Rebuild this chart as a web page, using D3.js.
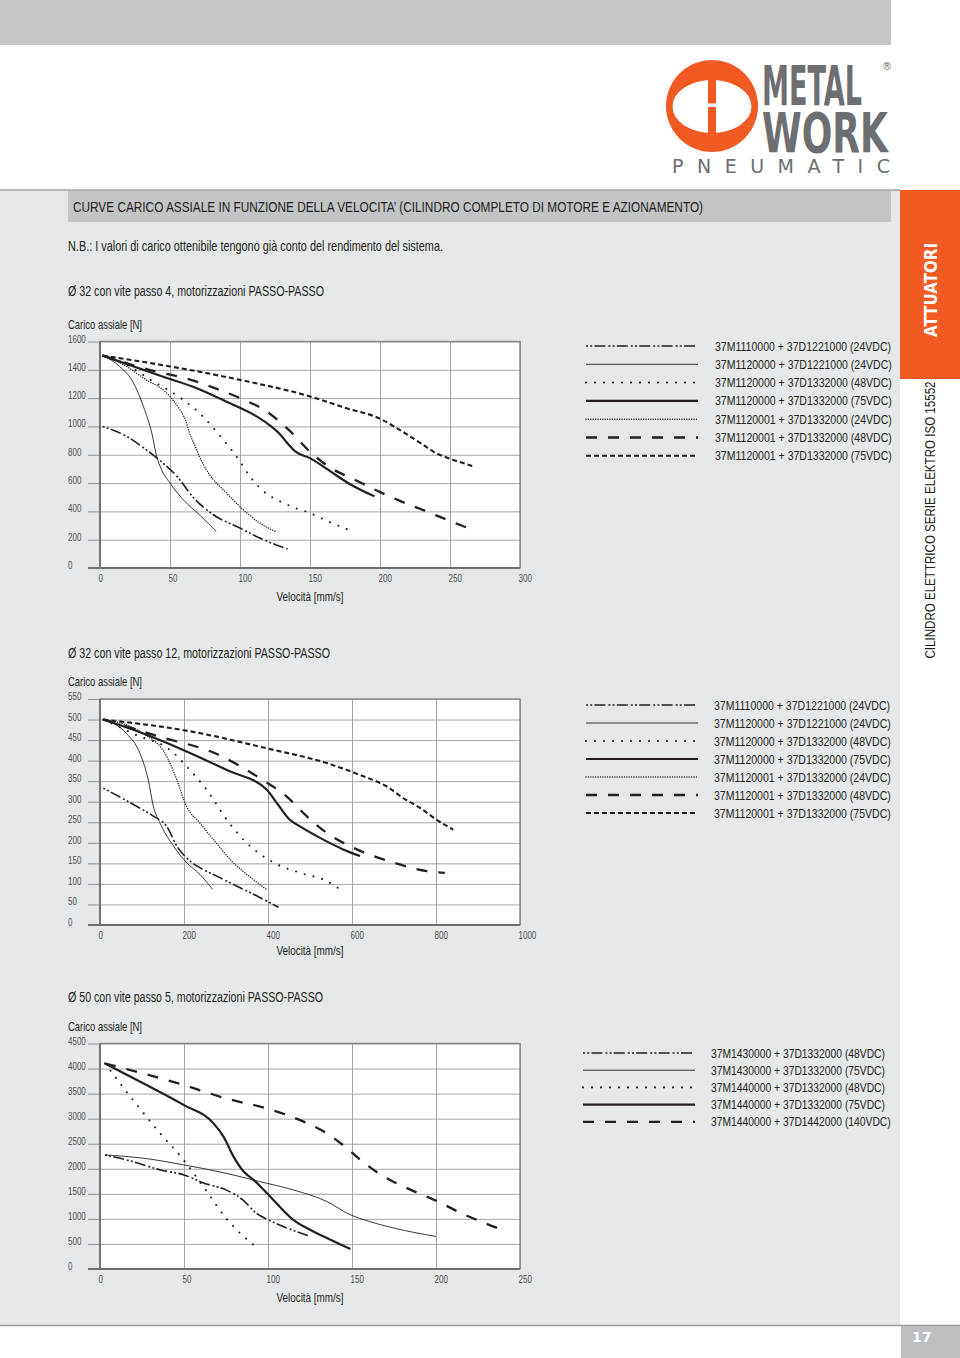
<!DOCTYPE html>
<html>
<head>
<meta charset="utf-8">
<script src="https://cdn.jsdelivr.net/npm/d3@7"></script>
<style>
html, body { margin: 0; padding: 0; background: #fff; }
svg { display: block; }
text { font-family: "Liberation Sans", Arial, sans-serif; fill: #231f20; }
</style>
</head>
<body>
<svg id="page" width="960" height="1358"></svg>
<script>
// ---- chart 1 : Ø32 passo 4 ----
var c1XTicks = [0, 50, 100, 150, 200, 250, 300];
var c1YTicks = [0, 200, 400, 600, 800, 1000, 1200, 1400, 1600];
var c1Legend = [
	"37M1110000 + 37D1221000 (24VDC)",
	"37M1120000 + 37D1221000 (24VDC)",
	"37M1120000 + 37D1332000 (48VDC)",
	"37M1120000 + 37D1332000 (75VDC)",
	"37M1120001 + 37D1332000 (24VDC)",
	"37M1120001 + 37D1332000 (48VDC)",
	"37M1120001 + 37D1332000 (75VDC)"
];
var c1DashDot = [[2,1000],[19,930],[31,850],[43,758],[55,647],[67,494],[81,376],[100,282],[114,212],[134,134]];
var c1Thin = [[2,1500],[14,1424],[24,1306],[31,1141],[37,953],[40.5,788],[44,694],[50,600],[59.5,482],[71,376],[83,259]];
var c1Sparse = [[2,1500],[20,1430],[38,1318],[56,1212],[71,1094],[80,1000],[88,906],[100,753],[107,647],[115,558],[133,450],[150,388],[163,329],[180,259]];
var c1Thick = [[2,1500],[43,1358],[67,1278],[90,1176],[110,1082],[121,1010],[129,940],[134,880],[140,820],[150,776],[162,700],[179,590],[196,506]];
var c1Dense = [[2,1500],[19,1424],[33,1329],[45,1259],[52,1188],[57,1118],[61,1047],[64,953],[68,859],[71,788],[76,694],[81,624],[88,553],[95,482],[105,388],[114,318],[125,259]];
var c1LongDash = [[2,1500],[40,1388],[61,1341],[82,1271],[100,1200],[119,1106],[136,965],[151,812],[165,706],[181,628],[199,541],[215,471],[232,405],[249,336],[267,266]];
var c1ShortDash = [[2,1500],[50,1424],[100,1329],[150,1212],[176,1129],[200,1055],[214,976],[229,882],[240,812],[252,765],[267,718]];

// ---- chart 2 : Ø32 passo 12 ----
var c2XTicks = [0, 200, 400, 600, 800, 1000];
var c2YTicks = [0, 50, 100, 150, 200, 250, 300, 350, 400, 450, 500, 550];
var c2Legend = c1Legend;
var c2DashDot = [[8,333],[87,289],[127,265],[159,240],[183,192],[214,156],[246,135],[278,119],[325,95],[373,71],[425,43]];
var c2Thin = [[8,500],[63,466],[95,418],[115,353],[127,289],[143,248],[175,192],[206,152],[238,123],[268,87]];
var c2Sparse = [[8,500],[87,462],[167,426],[214,377],[254,329],[302,256],[349,200],[413,152],[476,127],[540,107],[571,87]];
var c2Thick = [[8,500],[103,466],[198,426],[302,377],[397,329],[421,297],[452,256],[476,240],[524,212],[579,184],[619,168]];
var c2Dense = [[8,500],[103,466],[159,410],[183,353],[206,289],[238,248],[270,208],[317,152],[365,111],[398,85]];
var c2LongDash = [[8,500],[143,458],[278,416],[381,357],[444,313],[492,265],[540,224],[603,188],[698,152],[778,131],[821,127]];
var c2ShortDash = [[8,500],[222,470],[397,430],[540,394],[619,365],[683,337],[722,309],[762,285],[802,256],[841,232]];

// ---- chart 3 : Ø50 passo 5 ----
var c3XTicks = [0, 50, 100, 150, 200, 250];
var c3YTicks = [0, 500, 1000, 1500, 2000, 2500, 3000, 3500, 4000, 4500];
var c3Legend = [
	"37M1430000 + 37D1332000 (48VDC)",
	"37M1430000 + 37D1332000 (75VDC)",
	"37M1440000 + 37D1332000 (48VDC)",
	"37M1440000 + 37D1332000 (75VDC)",
	"37M1440000 + 37D1442000 (140VDC)"
];
var c3DashDot = [[3,2276],[16,2177],[36,1977],[50,1878],[62,1712],[75,1579],[85,1380],[93,1115],[99,1000],[109,849],[124,664]];
var c3Thin = [[3,2276],[26,2210],[50,2077],[75,1911],[95,1745],[115,1579],[135,1347],[149,1082],[156,995],[175,816],[200,650]];
var c3Sparse = [[3,4101],[22.5,3251],[35.8,2707],[49.7,2177],[62.2,1612],[75,1015],[94.4,398]];
var c3Thick = [[3,4101],[26,3703],[50,3271],[67.6,2906],[73.5,2641],[79.5,2243],[85.5,1944],[91.4,1778],[99.4,1513],[115,982],[125,783],[135,617],[149,398]];
var c3LongDash = [[3,4101],[22,3935],[50,3670],[75,3404],[99,3205],[119,2973],[135,2707],[147,2409],[155,2177],[169,1845],[185,1579],[201,1347],[215,1115],[229,916],[242,750]];

// line styles
var styles = {
	dashDot:   { w: 1.6, dash: "2,2.2,2,2.2,11,3", cap: "butt" },
	thin:      { w: 0.9, dash: null, cap: "butt" },
	sparse:    { w: 2.1, dash: "0,9", cap: "round" },
	thick:     { w: 2.2, dash: null, cap: "butt" },
	dense:     { w: 1.5, dash: "0,2.4", cap: "round" },
	longDash:  { w: 2.3, dash: "11,11", cap: "butt" },
	shortDash: { w: 2.1, dash: "5,3", cap: "butt" }
};

var svg = d3.select("#page");
var orange = "#f15a22", logoGrey = "#6d6e71";

// squeeze text horizontally, imitating the condensed face of the original
function squeeze(sel, f) {
	sel.each(function() {
		var l = this.getComputedTextLength();
		d3.select(this).attr("textLength", l * f).attr("lengthAdjust", "spacingAndGlyphs");
	});
	return sel;
}
function fit(sel, w) {
	return sel.attr("textLength", w).attr("lengthAdjust", "spacingAndGlyphs");
}

// page frame
svg.append("rect").attr("x", 0).attr("y", 0).attr("width", 891).attr("height", 45).attr("fill", "#c6c7c9");
svg.append("rect").attr("x", 0).attr("y", 190).attr("width", 900).attr("height", 1135).attr("fill", "#e6e7e8");
svg.append("rect").attr("x", 900).attr("y", 190).attr("width", 60).attr("height", 189).attr("fill", orange);
svg.append("line").attr("x1", 0).attr("x2", 900).attr("y1", 190).attr("y2", 190).attr("stroke", "#a2a3a5").attr("stroke-width", 1.5);
svg.append("line").attr("x1", 0).attr("x2", 960).attr("y1", 1325.5).attr("y2", 1325.5).attr("stroke", "#9a9b9d").attr("stroke-width", 1.5);
svg.append("rect").attr("x", 901).attr("y", 1326).attr("width", 59).attr("height", 32).attr("fill", "#bcbec0");
svg.append("text").attr("x", 912).attr("y", 1342).attr("font-size", 14).attr("font-weight", "bold")
	.style("fill", "#fff").style("font-family", "'DejaVu Sans', sans-serif").text("17");

// title bar
svg.append("rect").attr("x", 68).attr("y", 191).attr("width", 823).attr("height", 31).attr("fill", "#c3c4c6");
fit(svg.append("text").attr("x", 73).attr("y", 212).attr("font-size", 14.5), 630)
	.text("CURVE CARICO ASSIALE IN FUNZIONE DELLA VELOCITA’ (CILINDRO COMPLETO DI MOTORE E AZIONAMENTO)");
fit(svg.append("text").attr("x", 68).attr("y", 251).attr("font-size", 14), 375)
	.text("N.B.: I valori di carico ottenibile tengono già conto del rendimento del sistema.");

// sidebar texts
fit(svg.append("text").attr("transform", "translate(937,290) rotate(-90)").attr("text-anchor", "middle")
	.attr("font-size", 18).attr("font-weight", "bold")
	.style("fill", "#fff").style("font-family", "'DejaVu Sans', sans-serif"), 94).text("ATTUATORI");
fit(svg.append("text").attr("transform", "translate(934.5,520) rotate(-90)").attr("text-anchor", "middle")
	.attr("font-size", 15), 277)
	.text("CILINDRO ELETTRICO SERIE ELEKTRO ISO 15552");

// logo
var logo = svg.append("g");
logo.append("circle").attr("cx", 712).attr("cy", 106).attr("r", 46).attr("fill", orange);
logo.append("ellipse").attr("cx", 712).attr("cy", 106.5).attr("rx", 39.5).attr("ry", 26.5).attr("fill", "#fff");
logo.append("rect").attr("x", 708).attr("y", 78).attr("width", 8).attr("height", 57).attr("fill", orange);
logo.append("rect").attr("x", 707).attr("y", 103.5).attr("width", 10).attr("height", 3.5).attr("fill", "#fff");

function logoWord(word, baseY, w) {
	var t = logo.append("text").attr("font-size", 56).attr("font-weight", "bold")
		.style("fill", logoGrey).style("font-family", "'DejaVu Sans Condensed', 'DejaVu Sans', sans-serif")
		.text(word);
	var l = t.node().getComputedTextLength();
	t.attr("transform", "translate(762," + baseY + ") scale(" + (w / l) + ",1)");
}
logoWord("METAL", 105, 100);
logoWord("WORK", 152, 126);
logo.append("text").attr("x", 887).attr("y", 70).attr("font-size", 10).attr("text-anchor", "middle")
	.style("fill", logoGrey).style("font-family", "'DejaVu Sans', sans-serif").text("®");
logo.append("text").attr("x", 672).attr("y", 173).attr("font-size", 19).attr("textLength", 218)
	.style("fill", logoGrey).style("font-family", "'DejaVu Sans', sans-serif").text("PNEUMATIC");

function drawChart(cfg) {
	var g = svg.append("g");
	var x = d3.scaleLinear().domain(cfg.xDomain).range([100, 520]);
	var y = d3.scaleLinear().domain(cfg.yDomain).range([cfg.yBottom, cfg.yTop]);
	var h = cfg.yBottom - cfg.yTop;

	fit(g.append("text").attr("x", 68).attr("y", cfg.subY).attr("font-size", 14), cfg.subLen).text(cfg.subtitle);
	fit(g.append("text").attr("x", 68).attr("y", cfg.yTop - 13).attr("font-size", 13), 74).text("Carico assiale [N]");

	g.append("rect").attr("x", 100).attr("y", cfg.yTop).attr("width", 420).attr("height", h).attr("fill", "#fff");

	// grid
	var gx = g.append("g").attr("transform", "translate(0," + cfg.yBottom + ")")
		.call(d3.axisBottom(x).tickValues(cfg.xTicks).tickSize(-h).tickFormat(""));
	var gy = g.append("g").attr("transform", "translate(100,0)")
		.call(d3.axisLeft(y).tickValues(cfg.yTicks).tickSize(-420).tickFormat(""));
	[gx, gy].forEach(function(s) {
		s.select(".domain").remove();
		s.selectAll("line").attr("stroke", "#a3a5a8").attr("stroke-width", 1);
	});

	// y axis, labels left-aligned
	var ya = g.append("g").attr("transform", "translate(100,0)")
		.call(d3.axisLeft(y).tickValues(cfg.yTicks).tickSize(12).tickSizeOuter(0).tickFormat(d3.format("d")));
	ya.select(".domain").remove();
	ya.selectAll("line").attr("stroke", "#8c8e91");
	ya.attr("font-size", 10).attr("font-family", null);
	squeeze(ya.selectAll("text").attr("x", -32).attr("dy", "0.05em").attr("text-anchor", "start").style("fill", "#4d4d4f"), 0.8);

	// x axis labels
	var xa = g.append("g").attr("transform", "translate(0," + cfg.yBottom + ")")
		.call(d3.axisBottom(x).tickValues(cfg.xTicks).tickSize(0).tickPadding(7).tickFormat(d3.format("d")));
	xa.select(".domain").remove();
	xa.attr("font-size", 10).attr("font-family", null);
	squeeze(xa.selectAll("text").attr("x", -2).attr("text-anchor", "start").style("fill", "#4d4d4f"), 0.8);

	// frame
	g.append("rect").attr("x", 100).attr("y", cfg.yTop).attr("width", 420).attr("height", h)
		.attr("fill", "none").attr("stroke", "#7d7f82").attr("stroke-width", 1.3);
	g.append("line").attr("x1", 88).attr("x2", 520).attr("y1", cfg.yBottom).attr("y2", cfg.yBottom)
		.attr("stroke", "#6d6e71").attr("stroke-width", 1.8);
	g.append("line").attr("x1", 100).attr("x2", 100).attr("y1", cfg.yTop).attr("y2", cfg.yBottom)
		.attr("stroke", "#6d6e71").attr("stroke-width", 1.8);

	fit(g.append("text").attr("x", 310).attr("y", cfg.yBottom + cfg.titleOff).attr("text-anchor", "middle")
		.attr("font-size", 13.5), 67).text("Velocità [mm/s]");

	var line = d3.line()
		.x(function(d) { return x(d[0]); })
		.y(function(d) { return y(d[1]); })
		.curve(d3.curveMonotoneX);

	cfg.series.forEach(function(s) {
		var st = styles[s.style];
		g.append("path").attr("d", line(s.data))
			.attr("fill", "none").attr("stroke", "#231f20")
			.attr("stroke-width", st.w).attr("stroke-dasharray", st.dash)
			.attr("stroke-linecap", st.cap).attr("stroke-linejoin", "round");
	});

	// legend
	var lg = g.append("g");
	cfg.series.forEach(function(s, i) {
		var st = styles[s.style];
		var ly = cfg.legY + i * cfg.legStep;
		lg.append("line").attr("x1", cfg.legX1).attr("x2", cfg.legX1 + 112).attr("y1", ly).attr("y2", ly)
			.attr("stroke", "#231f20").attr("stroke-width", st.w).attr("stroke-dasharray", st.dash)
			.attr("stroke-linecap", st.cap);
		lg.append("text").attr("x", cfg.legTx).attr("y", ly + 4.5).attr("font-size", 13)
			.text(cfg.legend[i]);
	});
	var l0 = lg.select("text").node().getComputedTextLength();
	squeeze(lg.selectAll("text"), cfg.legW / l0);
}

drawChart({
	subtitle: "Ø 32 con vite passo 4, motorizzazioni PASSO-PASSO", subY: 296, subLen: 256,
	xDomain: [0, 300], yDomain: [0, 1600], yTop: 341.5, yBottom: 568, titleOff: 33,
	xTicks: c1XTicks, yTicks: c1YTicks, legend: c1Legend,
	legX1: 586, legTx: 715, legY: 346, legStep: 18.3, legW: 176,
	series: [
		{ data: c1DashDot, style: "dashDot" },
		{ data: c1Thin, style: "thin" },
		{ data: c1Sparse, style: "sparse" },
		{ data: c1Thick, style: "thick" },
		{ data: c1Dense, style: "dense" },
		{ data: c1LongDash, style: "longDash" },
		{ data: c1ShortDash, style: "shortDash" }
	]
});

drawChart({
	subtitle: "Ø 32 con vite passo 12, motorizzazioni PASSO-PASSO", subY: 658, subLen: 262,
	xDomain: [0, 1000], yDomain: [0, 550], yTop: 699, yBottom: 925, titleOff: 30,
	xTicks: c2XTicks, yTicks: c2YTicks, legend: c2Legend,
	legX1: 586, legTx: 714, legY: 705, legStep: 18, legW: 176,
	series: [
		{ data: c2DashDot, style: "dashDot" },
		{ data: c2Thin, style: "thin" },
		{ data: c2Sparse, style: "sparse" },
		{ data: c2Thick, style: "thick" },
		{ data: c2Dense, style: "dense" },
		{ data: c2LongDash, style: "longDash" },
		{ data: c2ShortDash, style: "shortDash" }
	]
});

drawChart({
	subtitle: "Ø 50 con vite passo 5, motorizzazioni PASSO-PASSO", subY: 1002, subLen: 255,
	xDomain: [0, 250], yDomain: [0, 4500], yTop: 1043.5, yBottom: 1269, titleOff: 33,
	xTicks: c3XTicks, yTicks: c3YTicks, legend: c3Legend,
	legX1: 583, legTx: 711, legY: 1053, legStep: 17.2, legW: 174,
	series: [
		{ data: c3DashDot, style: "dashDot" },
		{ data: c3Thin, style: "thin" },
		{ data: c3Sparse, style: "sparse" },
		{ data: c3Thick, style: "thick" },
		{ data: c3LongDash, style: "longDash" }
	]
});
</script>
</body>
</html>
